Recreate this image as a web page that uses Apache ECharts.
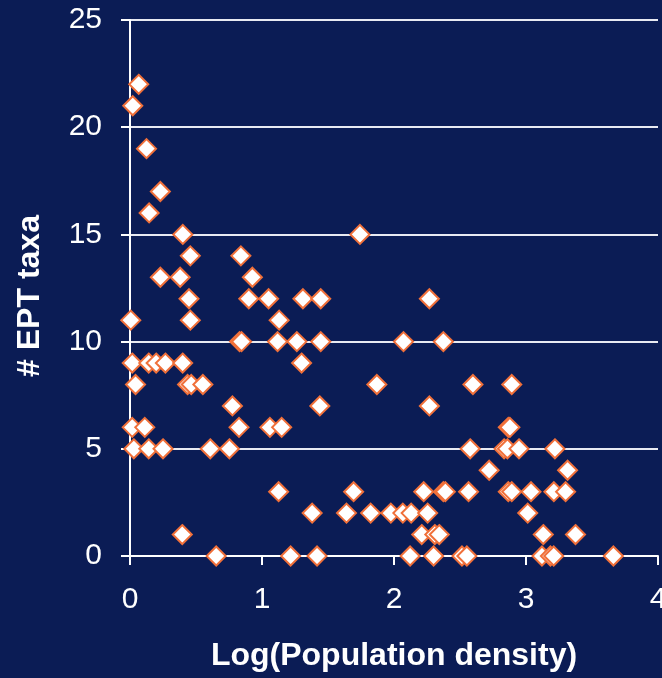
<!DOCTYPE html>
<html>
<head>
<meta charset="utf-8">
<script src="https://cdn.jsdelivr.net/npm/echarts@6/dist/echarts.min.js"></script>
<style>
  html, body { margin: 0; padding: 0; background: #0b1c55; }
  #chart { width: 662px; height: 678px; }
</style>
</head>
<body>
<div id="chart"></div>
<script>
// Log(Population density) of each site
const logDensity = [
  0.066, 0.021, 0.125, 0.23, 0.145,
  0.40, 1.742,
  0.457, 0.84,
  0.23, 0.38, 0.927,
  0.447, 0.90, 1.05, 1.31, 1.445, 2.268,
  0.006, 0.457, 1.13,
  0.83, 0.845, 1.118, 1.264, 1.445, 2.072, 2.374,
  0.017, 0.142, 0.198, 0.268, 0.399, 1.30,
  0.042, 0.436, 0.464, 0.552, 1.87, 2.598, 2.892,
  0.776, 1.438, 2.268,
  0.017, 0.112, 0.826, 1.06, 1.149, 2.866, 2.878,
  0.029, 0.142, 0.25, 0.608, 0.753, 2.577, 2.834, 2.859, 2.947, 3.219,
  2.721, 3.315,
  1.126, 1.694, 2.225, 2.374, 2.389, 2.565, 2.866, 2.892, 3.038, 3.211, 3.30,
  1.38, 1.64, 1.823, 1.976, 2.067, 2.13, 2.255, 3.013,
  0.396, 2.21, 2.309, 2.343, 3.131, 3.375,
  0.653, 1.217, 1.417, 2.122, 2.30, 2.515, 2.552, 3.121, 3.185, 3.21, 3.662
];
// # EPT taxa of each site
const eptTaxa = [
  22, 21, 19, 17, 16,
  15, 15,
  14, 14,
  13, 13, 13,
  12, 12, 12, 12, 12, 12,
  11, 11, 11,
  10, 10, 10, 10, 10, 10, 10,
  9, 9, 9, 9, 9, 9,
  8, 8, 8, 8, 8, 8, 8,
  7, 7, 7,
  6, 6, 6, 6, 6, 6, 6,
  5, 5, 5, 5, 5, 5, 5, 5, 5, 5,
  4, 4,
  3, 3, 3, 3, 3, 3, 3, 3, 3, 3, 3,
  2, 2, 2, 2, 2, 2, 2, 2,
  1, 1, 1, 1, 1, 1,
  0, 0, 0, 0, 0, 0, 0, 0, 0, 0, 0
];
const xTicks = [0, 1, 2, 3, 4];
const yTicks = [0, 5, 10, 15, 20, 25];
const xTitle = 'Log(Population density)';
const yTitle = '# EPT taxa';

const points = logDensity.map((x, i) => [x, eptTaxa[i]]);

const chart = echarts.init(document.getElementById('chart'), null, { renderer: 'canvas' });
const font = '"Liberation Sans", Arial, sans-serif';
chart.setOption({
  backgroundColor: '#0b1c55',
  animation: false,
  grid: { left: 130, right: 4, top: 20, bottom: 122, containLabel: false, outerBoundsMode: 'none' },
  xAxis: {
    type: 'value',
    min: xTicks[0], max: xTicks[xTicks.length - 1], interval: 1,
    name: xTitle,
    nameLocation: 'middle',
    nameGap: 84,
    nameTextStyle: { color: '#ffffff', fontSize: 32, fontWeight: 'bold', fontFamily: font },
    axisLine: { show: true, onZero: false, lineStyle: { color: '#ffffff', width: 2 } },
    axisTick: { show: true, inside: false, length: 9, lineStyle: { color: '#ffffff', width: 2 } },
    axisLabel: { color: '#ffffff', fontSize: 30, fontFamily: font, margin: 29, hideOverlap: false },
    splitLine: { show: false }
  },
  yAxis: {
    type: 'value',
    min: yTicks[0], max: yTicks[yTicks.length - 1], interval: 5,
    name: yTitle,
    nameLocation: 'middle',
    nameGap: 84,
    nameRotate: 90,
    nameTextStyle: { color: '#ffffff', fontSize: 32, fontWeight: 'bold', fontFamily: font, padding: [0, 16, 0, 0] },
    axisLine: { show: true, lineStyle: { color: '#ffffff', width: 2 } },
    axisTick: { show: true, inside: false, length: 9, lineStyle: { color: '#ffffff', width: 2 } },
    axisLabel: { color: '#ffffff', fontSize: 30, fontFamily: font, margin: 28 },
    splitLine: { show: true, lineStyle: { color: '#e8eaf2', width: 2 } }
  },
  series: [{
    type: 'scatter',
    data: points,
    symbol: 'diamond',
    symbolSize: 19,
    itemStyle: { color: '#ffffff', borderColor: '#f0703a', borderWidth: 2, opacity: 1 },
    emphasis: { disabled: true }
  }]
});
</script>
</body>
</html>
